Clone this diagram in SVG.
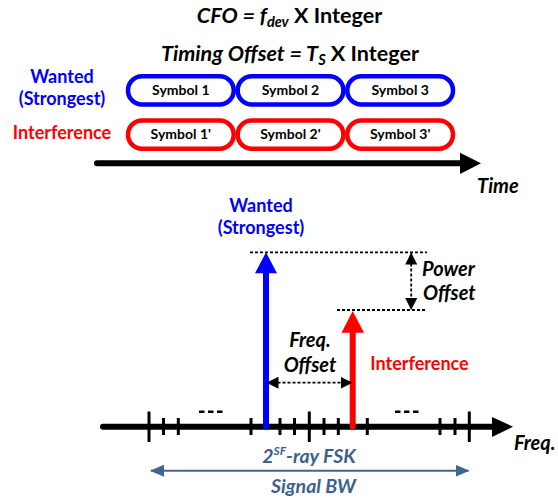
<svg xmlns="http://www.w3.org/2000/svg" width="558" height="500" viewBox="0 0 558 500">
  <style>
    text { font-family: Lato, "Open Sans", "Liberation Sans", sans-serif; font-weight: bold; }
    .title { font-size: 21.6px; fill: #000; }
    .it { font-style: italic; }
    .sym { font-size: 14px; fill: #000; text-anchor: middle; }
    .blue { fill: #0000FF; }
    .red { fill: #FF0000; }
    .lbl { font-size: 18px; }
    .axlbl { font-size: 20px; font-style: italic; fill: #000; }
    .bw { font-size: 19.5px; font-style: italic; fill: #3B618C; text-anchor: middle; }
    .boxB { fill: #fff; stroke: #0000FF; stroke-width: 4.5; }
    .boxR { fill: #fff; stroke: #FF0000; stroke-width: 4.5; }
    .axis { stroke: #000; stroke-width: 6; stroke-linecap: round; fill: none; }
    .tick { stroke: #000; stroke-width: 3; }
    .dot { stroke: #000; stroke-width: 1.8; stroke-dasharray: 3 2; fill: none; }
    .bwline { stroke: #41668F; stroke-width: 2; fill: none; }
  </style>
  <defs>
    <marker id="blackHead" viewBox="0 0 12 12" refX="11" refY="6" markerWidth="12" markerHeight="12" markerUnits="userSpaceOnUse" orient="auto-start-reverse">
      <path d="M0,0 L12,6 L0,12 Z" fill="#000"/>
    </marker>
    <marker id="bwHead" viewBox="0 0 14 12" refX="13" refY="6" markerWidth="14" markerHeight="12" markerUnits="userSpaceOnUse" orient="auto-start-reverse">
      <path d="M0,0 L14,6 L0,12 Z" fill="#41668F"/>
    </marker>
  </defs>

  <!-- headings -->
  <g id="cfo-title">
    <text class="title" x="289.5" y="23" text-anchor="middle"><tspan class="it">CFO = </tspan><tspan class="it">f</tspan><tspan class="it" font-size="14.5" dy="4">dev</tspan><tspan dy="-4"> X Integer</tspan></text>
  </g>
  <g id="timing-title">
    <text class="title" x="290" y="61" text-anchor="middle"><tspan class="it">Timing Offset = T</tspan><tspan class="it" font-size="14.5" dy="4">S</tspan><tspan dy="-4"> X Integer</tspan></text>
  </g>

  <!-- row labels -->
  <g id="wanted-label">
    <text class="lbl blue" x="62" y="83" text-anchor="middle">Wanted</text>
    <text class="lbl blue" x="62" y="105" text-anchor="middle">(Strongest)</text>
  </g>
  <g id="interference-label">
    <text class="lbl red" x="62" y="139" text-anchor="middle">Interference</text>
  </g>

  <!-- wanted symbols -->
  <g id="symbol-1">
    <rect class="boxB" x="128" y="76.2" width="105.7" height="28.3" rx="14"/>
    <text class="sym" x="180.8" y="95">Symbol 1</text>
  </g>
  <g id="symbol-2">
    <rect class="boxB" x="237.7" y="76.2" width="105.7" height="28.3" rx="14"/>
    <text class="sym" x="290.5" y="95">Symbol 2</text>
  </g>
  <g id="symbol-3">
    <rect class="boxB" x="347.3" y="76.2" width="105.7" height="28.3" rx="14"/>
    <text class="sym" x="400.2" y="95">Symbol 3</text>
  </g>

  <!-- interference symbols -->
  <g id="symbol-1p">
    <rect class="boxR" x="128" y="120.5" width="105.7" height="28.3" rx="14"/>
    <text class="sym" x="180.8" y="139">Symbol 1'</text>
  </g>
  <g id="symbol-2p">
    <rect class="boxR" x="237.7" y="120.5" width="105.7" height="28.3" rx="14"/>
    <text class="sym" x="290.5" y="139">Symbol 2'</text>
  </g>
  <g id="symbol-3p">
    <rect class="boxR" x="347.3" y="120.5" width="105.7" height="28.3" rx="14"/>
    <text class="sym" x="400.2" y="139">Symbol 3'</text>
  </g>

  <g id="time-label">
    <text class="axlbl" x="477" y="193" font-size="18.5">Time</text>
  </g>

  <!-- spectrum labels -->
  <g id="wanted-tone-label">
    <text class="lbl blue" x="261" y="212" text-anchor="middle">Wanted</text>
    <text class="lbl blue" x="261" y="234" text-anchor="middle">(Strongest)</text>
  </g>
  <g id="interference-tone-label">
    <text class="lbl red" x="419.5" y="370" text-anchor="middle" font-size="19.5">Interference</text>
  </g>
  <g id="power-offset-label">
    <text class="axlbl" x="422" y="276">Power</text>
    <text class="axlbl" x="423" y="300">Offset</text>
  </g>
  <g id="freq-offset-label">
    <text class="axlbl" x="310" y="347" text-anchor="middle">Freq.</text>
    <text class="axlbl" x="310" y="372" text-anchor="middle">Offset</text>
  </g>
  <g id="freq-label">
    <text class="axlbl" x="514" y="450" font-size="19">Freq.</text>
  </g>
  <g id="fsk-label">
    <text class="bw" x="309" y="463">2<tspan font-size="12" dy="-8">SF</tspan><tspan dy="8">-ray FSK</tspan></text>
    <text class="bw" x="313.5" y="493" font-size="21">Signal BW</text>
  </g>

  <!-- ellipses on the frequency axis -->
  <g id="ellipsis-left">
    <line x1="199" y1="411.7" x2="223" y2="411.7" stroke="#000" stroke-width="2.5" stroke-dasharray="5.5 3.5"/>
  </g>
  <g id="ellipsis-right">
    <line x1="395" y1="411.7" x2="419" y2="411.7" stroke="#000" stroke-width="2.5" stroke-dasharray="5.5 3.5"/>
  </g>

  <g id="connectors">
    <!-- time axis -->
    <line class="axis" x1="97" y1="163.3" x2="464" y2="163.3"/>
    <polygon points="460,152.7 481,163.3 460,174" fill="#000"/>

    <!-- frequency axis -->
    <line class="axis" x1="103" y1="426.7" x2="496" y2="426.7"/>
    <polygon points="492,417 513,426.7 492,437" fill="#000"/>

    <!-- ticks -->
    <g class="tick">
      <line x1="149" y1="411.5" x2="149" y2="442"/>
      <line x1="163.5" y1="418" x2="163.5" y2="435"/>
      <line x1="178.3" y1="418" x2="178.3" y2="435"/>
      <line x1="251" y1="418" x2="251" y2="435"/>
      <line x1="280" y1="418" x2="280" y2="435"/>
      <line x1="294.5" y1="418" x2="294.5" y2="435"/>
      <line x1="309.3" y1="411.5" x2="309.3" y2="442"/>
      <line x1="324" y1="418" x2="324" y2="435"/>
      <line x1="338.3" y1="418" x2="338.3" y2="435"/>
      <line x1="367.3" y1="418" x2="367.3" y2="435"/>
      <line x1="440" y1="418" x2="440" y2="435"/>
      <line x1="455" y1="418" x2="455" y2="435"/>
      <line x1="469.3" y1="411.5" x2="469.3" y2="442"/>
    </g>

    <!-- wanted tone -->
    <line x1="266" y1="426.7" x2="266" y2="270" stroke="#0000FF" stroke-width="6" stroke-linecap="round"/>
    <polygon points="266,252.3 277,273.3 255,273.3" fill="#0000FF"/>

    <!-- interference tone -->
    <line x1="352.7" y1="426.7" x2="352.7" y2="330" stroke="#FF0000" stroke-width="6" stroke-linecap="round"/>
    <polygon points="352.7,311 364,332.7 341.5,332.7" fill="#FF0000"/>

    <!-- power level guides -->
    <line class="dot" x1="250" y1="252.3" x2="427" y2="252.3"/>
    <line class="dot" x1="337" y1="310" x2="427" y2="310"/>

    <!-- power offset -->
    <line class="dot" x1="411.2" y1="253.5" x2="411.2" y2="309" marker-start="url(#blackHead)" marker-end="url(#blackHead)"/>

    <!-- frequency offset -->
    <line class="dot" x1="267.5" y1="382.7" x2="351.5" y2="382.7" marker-start="url(#blackHead)" marker-end="url(#blackHead)"/>

    <!-- signal bandwidth -->
    <line class="bwline" x1="151" y1="470.7" x2="468.5" y2="470.7" marker-start="url(#bwHead)" marker-end="url(#bwHead)"/>
  </g>
</svg>
